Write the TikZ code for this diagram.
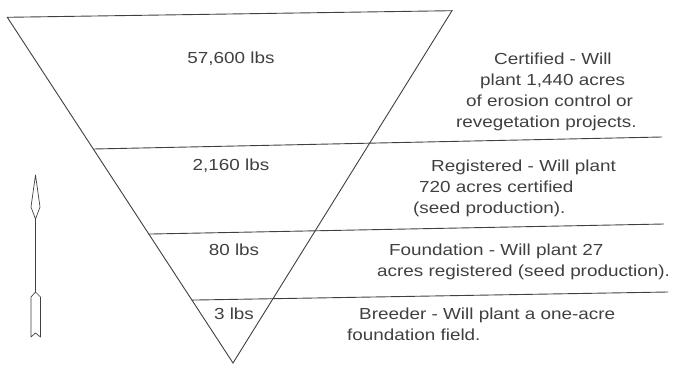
\documentclass[tikz,border=0pt]{standalone}
\usepackage{fontspec}
\newfontfamily\seedfont{Liberation Sans}[FakeStretch=1.18]
\usetikzlibrary{calc}
\definecolor{ink}{HTML}{404040}
\tikzset{
	edge/.style={draw=ink, line width=0.9pt},
	thinedge/.style={draw=ink, line width=0.7pt, line join=round},
	amount/.style={anchor=base, inner sep=0pt, text=ink, font=\seedfont\fontsize{16}{21}\selectfont},
	class/.style={anchor=base west, inner sep=0pt, align=left, text=ink, font=\seedfont\fontsize{16}{21}\selectfont}
}

\begin{document}
\begin{tikzpicture}[x=1pt, y=-1pt]
	\useasboundingbox (0,0) rectangle (674,366);
	\coordinate (tl) at (7.3,17.3);
	\coordinate (tr) at (452,10.7);
	\coordinate (apex) at (233,363);
	\coordinate (r1) at (662,137);
	\coordinate (r2) at (664,224);
	\coordinate (r3) at (668,292);
	\draw[edge] (tl) -- (tr) -- (apex) -- cycle;
	\draw[edge] ($(tl)!0.381!(apex)$) -- (r1);
	\draw[edge] ($(tl)!0.627!(apex)$) -- (r2);
	\draw[edge] ($(tl)!0.818!(apex)$) -- (r3);
	\node[amount] (certlbs) at (231,64) {57,600 lbs};
	\node[amount] (reglbs) at (231,171) {2,160 lbs};
	\node[amount] (foundlbs) at (234,255) {80 lbs};
	\node[amount] (breedlbs) at (234,319) {3 lbs};
	\node[class] (certified) at (456,128) {\hspace*{38pt}Certified - Will\\\hspace*{24pt}plant 1,440 acres\\\hspace*{10pt}of erosion control or\\revegetation projects.};
	\node[class] (registered) at (413,213) {\hspace*{18pt}Registered - Will plant\\\hspace*{6pt}720 acres certified\\(seed production).};
	\node[class] (foundation) at (377,276) {\hspace*{12pt}Foundation - Will plant 27\\acres registered (seed production).};
	\node[class] (breeder) at (347,340) {\hspace*{12pt}Breeder - Will plant a one-acre\\foundation field.};
	\coordinate (tip) at (35.5,175);
	\coordinate (neck) at (35.5,219);
	\coordinate (nock) at (35.5,292);
	\draw[thinedge] (tip) -- (31,207) -- (neck) -- (40,207) -- cycle;
	\draw[thinedge] (neck) -- (nock);
	\draw[thinedge] (nock) -- (31,297) -- (31,337) -- (35.5,333) -- (40.5,337) -- (40.5,297) -- cycle;
\end{tikzpicture}
\end{document}
